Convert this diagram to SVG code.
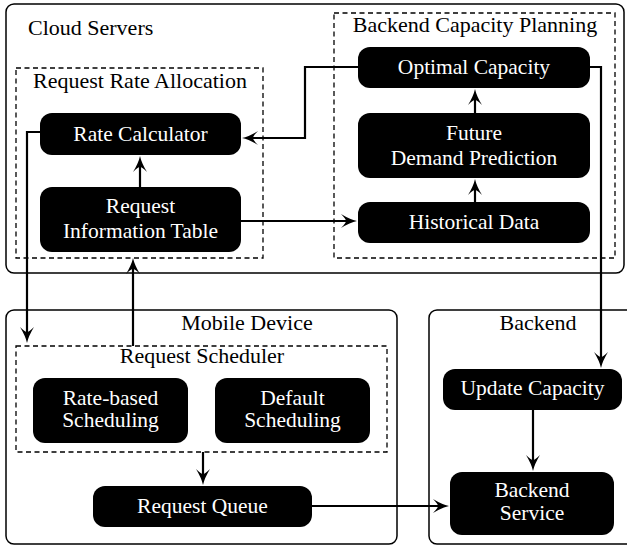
<svg xmlns="http://www.w3.org/2000/svg" width="627" height="546" viewBox="0 0 627 546">
<style>
.box{fill:none;stroke:#000;stroke-width:1.5}
.dash{fill:none;stroke:#000;stroke-width:1.3;stroke-dasharray:5 3.5}
.node{fill:#000}
.lbl{font-size:22px;fill:#000}
.nt{font-size:21.5px;fill:#fff;text-anchor:middle}
.c{text-anchor:middle}
.conn{fill:none;stroke:#000;stroke-width:2.2;marker-end:url(#ah)}
</style>
<defs>
<marker id="ah" viewBox="-17 -8 18 16" markerWidth="18" markerHeight="16" refX="-8" refY="0" orient="auto" markerUnits="userSpaceOnUse">
<path d="M0,0 Q-7,-1.5 -16,-7 Q-11,-2 -11,0 Q-11,2 -16,7 Q-7,1.5 0,0 Z" fill="#000"/>
</marker>
</defs>
<g font-family="Liberation Serif, DejaVu Serif, serif">
<g id="cloud-servers">
<rect class="box" x="6" y="4" width="618" height="269" rx="8"/>
<text class="lbl" x="28" y="35">Cloud Servers</text>
</g>
<g id="request-rate-allocation">
<rect class="dash" x="16" y="68" width="247" height="190"/>
<text class="lbl c" x="140" y="88">Request Rate Allocation</text>
</g>
<g id="backend-capacity-planning">
<rect class="dash" x="334" y="13" width="281" height="245"/>
<text class="lbl c" x="475" y="32">Backend Capacity Planning</text>
</g>
<g id="mobile-device">
<rect class="box" x="6" y="310" width="391" height="234" rx="8"/>
<text class="lbl c" x="247" y="330">Mobile Device</text>
</g>
<g id="request-scheduler">
<rect class="dash" x="16" y="346" width="371" height="106"/>
<text class="lbl c" x="202" y="363">Request Scheduler</text>
</g>
<g id="backend">
<rect class="box" x="429" y="310" width="205" height="234" rx="8"/>
<text class="lbl c" x="538" y="330">Backend</text>
</g>
<g id="rate-calculator">
<rect class="node" x="40" y="113" width="201" height="42" rx="12"/>
<text class="nt" x="140.5" y="141">Rate Calculator</text>
</g>
<g id="request-information-table">
<rect class="node" x="40" y="187" width="201" height="65" rx="12"/>
<text class="nt" x="140.5" y="213">Request</text>
<text class="nt" x="140.5" y="238">Information Table</text>
</g>
<g id="optimal-capacity">
<rect class="node" x="358" y="47" width="232" height="41" rx="12"/>
<text class="nt" x="474" y="74">Optimal Capacity</text>
</g>
<g id="future-demand-prediction">
<rect class="node" x="358" y="113" width="232" height="65" rx="12"/>
<text class="nt" x="474" y="140">Future</text>
<text class="nt" x="474" y="165">Demand Prediction</text>
</g>
<g id="historical-data">
<rect class="node" x="358" y="202" width="232" height="41" rx="12"/>
<text class="nt" x="474" y="229">Historical Data</text>
</g>
<g id="rate-based-scheduling">
<rect class="node" x="33" y="378" width="155" height="65" rx="12"/>
<text class="nt" x="110.5" y="405">Rate-based</text>
<text class="nt" x="110.5" y="427">Scheduling</text>
</g>
<g id="default-scheduling">
<rect class="node" x="215" y="378" width="155" height="65" rx="12"/>
<text class="nt" x="292.5" y="405">Default</text>
<text class="nt" x="292.5" y="427">Scheduling</text>
</g>
<g id="request-queue">
<rect class="node" x="93" y="486" width="219" height="41" rx="12"/>
<text class="nt" x="202.5" y="513">Request Queue</text>
</g>
<g id="update-capacity">
<rect class="node" x="443" y="369" width="179" height="41" rx="12"/>
<text class="nt" x="532.5" y="395">Update Capacity</text>
</g>
<g id="backend-service">
<rect class="node" x="450" y="472" width="164" height="63" rx="12"/>
<text class="nt" x="532" y="497">Backend</text>
<text class="nt" x="532" y="520">Service</text>
</g>
</g>
<g id="connectors">
<path class="conn" d="M358,67 H305 V138 H250"/>
<path class="conn" d="M40,132 H27 V335"/>
<path class="conn" d="M133,346 V266"/>
<path class="conn" d="M140,187 V164"/>
<path class="conn" d="M241,221 H349"/>
<path class="conn" d="M475,202 V187"/>
<path class="conn" d="M475,113 V97"/>
<path class="conn" d="M590,67 H601 V360"/>
<path class="conn" d="M533,410 V463"/>
<path class="conn" d="M203,452 V477"/>
<path class="conn" d="M312,506 H441"/>
</g>
</svg>
